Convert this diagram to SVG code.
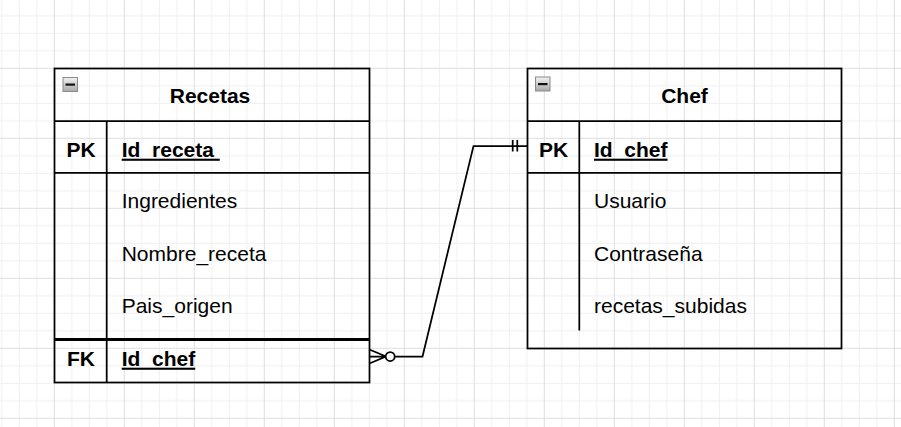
<svg xmlns="http://www.w3.org/2000/svg" width="901" height="427" viewBox="0 0 901 427">
<style>
.box{fill:none;stroke:#000;stroke-width:1.75}
.ln{stroke:#000;stroke-width:1.75;fill:none}
.title{font-family:"Liberation Sans",Arial,sans-serif;font-size:21px;font-weight:bold;fill:#000;text-anchor:middle}
.key{font-family:"Liberation Sans",Arial,sans-serif;font-size:21px;font-weight:bold;fill:#000;text-anchor:middle}
.pk{font-family:"Liberation Sans",Arial,sans-serif;font-size:21px;font-weight:bold;fill:#000;text-decoration:underline}
.attr{font-family:"Liberation Sans",Arial,sans-serif;font-size:21px;fill:#000}
.conn{stroke:#000;stroke-width:1.75;fill:none}
</style>
<defs>
<pattern id="grid" patternUnits="userSpaceOnUse" x="53.8" y="67.8" width="70" height="70">
<path d="M18 0V70M35.5 0V70M53 0V70M0 18H70M0 35.5H70M0 53H70" stroke="#efefef" stroke-width="1"/>
<path d="M0.5 0V70M0 0.5H70" stroke="#dedede" stroke-width="1"/>
</pattern>
<linearGradient id="ic" x1="0" y1="0" x2="0" y2="1">
<stop offset="0" stop-color="#f2f2f2"/>
<stop offset="1" stop-color="#a8a8a8"/>
</linearGradient>
<g id="collapse">
<rect x="0" y="0" width="14.5" height="14" fill="url(#ic)" stroke="#8a8a8a" stroke-width="1"/>
<rect x="2.5" y="6" width="9.5" height="2.2" fill="#111"/>
</g>
</defs>
<rect width="901" height="427" fill="#fff"/>
<rect width="901" height="427" fill="url(#grid)"/>

<g id="recetas">
<rect class="box" x="54.5" y="68.5" width="315" height="314"/>
<line class="ln" x1="54.5" y1="121" x2="369.5" y2="121"/>
<line class="ln" x1="54.5" y1="172.8" x2="369.5" y2="172.8"/>
<line class="ln" x1="106.7" y1="121" x2="106.7" y2="382.5"/>
<line x1="54.5" y1="339.5" x2="369.5" y2="339.5" stroke="#000" stroke-width="3"/>
<use href="#collapse" x="63" y="77.5"/>
<text class="title" x="210" y="103.3">Recetas</text>
<text class="key" x="81" y="156.7">PK</text>
<text class="pk" x="121.7" y="156.7" xml:space="preserve">Id_receta </text>
<text class="attr" x="121.7" y="208.3">Ingredientes</text>
<text class="attr" x="121.7" y="260.8">Nombre_receta</text>
<text class="attr" x="121.7" y="313.3">Pais_origen</text>
<text class="key" x="81" y="365.7">FK</text>
<text class="pk" x="121.7" y="365.7">Id_chef</text>
</g>

<g id="chef">
<rect class="box" x="527.5" y="68.5" width="314" height="280"/>
<line class="ln" x1="527.5" y1="121" x2="841.5" y2="121"/>
<line class="ln" x1="527.5" y1="172.8" x2="841.5" y2="172.8"/>
<line class="ln" x1="579.3" y1="121" x2="579.3" y2="330.5"/>
<use href="#collapse" x="535.5" y="77"/>
<text class="title" x="684.5" y="103.3">Chef</text>
<text class="key" x="553.5" y="156.7">PK</text>
<text class="pk" x="594" y="156.7">Id_chef</text>
<text class="attr" x="594" y="207.8">Usuario</text>
<text class="attr" x="594" y="260.8">Contraseña</text>
<text class="attr" x="594" y="313.3">recetas_subidas</text>
</g>

<g id="connectors">
<path class="conn" d="M394.7 356.5H422.5L473.5 146H527.5"/>
<path class="conn" d="M370 349.8L386 356.5L370 363.2M370 356.5H385.7"/>
<circle cx="390.2" cy="356.5" r="4.5" fill="#fff" stroke="#000" stroke-width="1.75"/>
<path class="conn" d="M512.7 140V151.5M517.3 140V151.5"/>
</g>
</svg>
